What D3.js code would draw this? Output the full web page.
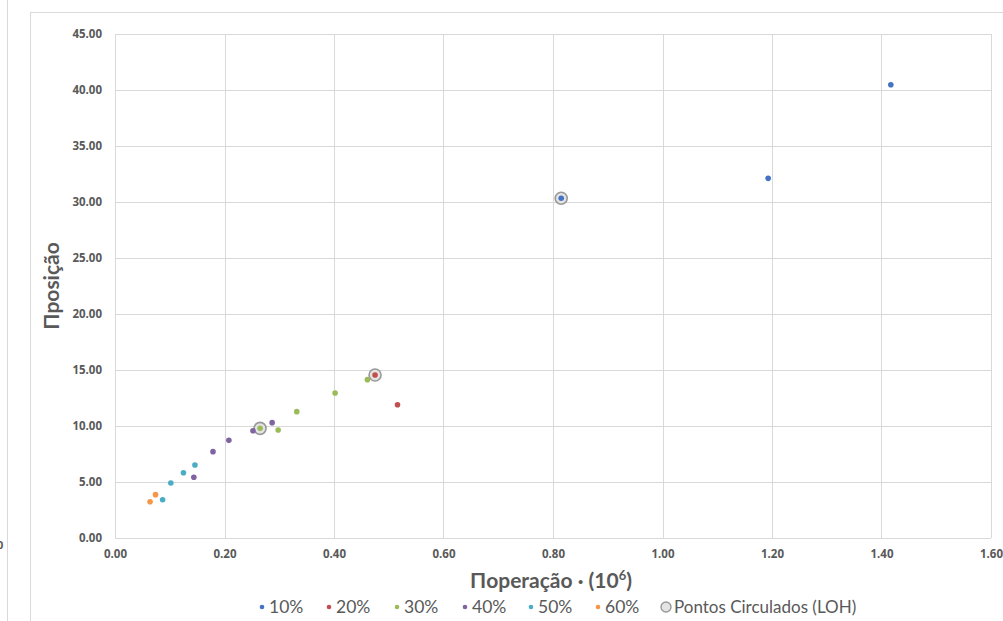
<!DOCTYPE html>
<html>
<head>
<meta charset="utf-8">
<script src="https://cdn.jsdelivr.net/npm/d3@7"></script>
<style>
  body { margin: 0; background: #fff; }
  svg { display: block; font-family: Lato, "Open Sans", sans-serif; }
</style>
</head>
<body>
<div id="chart"></div>
<script>
// series names + colours (Excel default palette)
const seriesNames = ['10%', '20%', '30%', '40%', '50%', '60%'];
const seriesColors = ['#4472c4', '#c0504d', '#9bbb59', '#8064a2', '#4bacc6', '#f79646'];

// points per series: [Noperacao (10^6), Nposicao]
const s10 = [[0.815, 30.34], [1.193, 32.11], [1.417, 40.47]];
const s20 = [[0.475, 14.55], [0.516, 11.90]];
const s30 = [[0.265, 9.79], [0.298, 9.64], [0.332, 11.28], [0.402, 12.95], [0.461, 14.14]];
const s40 = [[0.144, 5.42], [0.179, 7.71], [0.208, 8.72], [0.252, 9.58], [0.287, 10.30]];
const s50 = [[0.087, 3.42], [0.102, 4.91], [0.125, 5.83], [0.146, 6.52]];
const s60 = [[0.064, 3.24], [0.074, 3.87]];
const seriesData = [s10, s20, s30, s40, s50, s60];

// circled points (LOH)
const circled = [[0.265, 9.79], [0.475, 14.55], [0.815, 30.34]];

const xTicks = [0, 0.2, 0.4, 0.6, 0.8, 1.0, 1.2, 1.4, 1.6];
const yTicks = [0, 5, 10, 15, 20, 25, 30, 35, 40, 45];

const W = 1003, H = 621;
const margin = {t: 34, r: 12, b: 83, l: 115};
const grey = '#595959';

const svg = d3.select('#chart').append('svg')
  .attr('width', W)
  .attr('height', H);

// chart frame + the edge of a neighbouring chart on the left
svg.append('line').attr('x1', 7.5).attr('x2', 7.5).attr('y1', 0).attr('y2', H)
  .attr('stroke', '#d9d9d9');
svg.append('text').attr('x', -3).attr('y', 549).text('0')
  .attr('font-family', '"Open Sans", sans-serif')
  .attr('font-size', 11).attr('font-weight', 'bold').attr('fill', grey);
svg.append('rect').attr('x', 30.5).attr('y', 12.5).attr('width', W).attr('height', H)
  .attr('fill', 'none').attr('stroke', '#d9d9d9');

const x = d3.scaleLinear().domain([0, 1.6]).range([margin.l, W - margin.r]);
const y = d3.scaleLinear().domain([0, 45]).range([H - margin.b, margin.t]);

// gridlines
const grid = svg.append('g');
grid.selectAll('.gx').data(xTicks).join('line')
  .attr('x1', d => Math.round(x(d)) + 0.5).attr('x2', d => Math.round(x(d)) + 0.5)
  .attr('y1', y(45)).attr('y2', y(0))
  .attr('stroke', '#d9d9d9');
grid.selectAll('.gy').data(yTicks).join('line')
  .attr('x1', x(0)).attr('x2', x(1.6))
  .attr('y1', d => Math.round(y(d)) + 0.5).attr('y2', d => Math.round(y(d)) + 0.5)
  .attr('stroke', '#d9d9d9');

// axes (labels only)
const xAxis = svg.append('g')
  .attr('transform', `translate(0, ${y(0)})`)
  .call(d3.axisBottom(x).tickValues(xTicks).tickFormat(d3.format('.2f')).tickSize(0).tickPadding(12));
const yAxis = svg.append('g')
  .attr('transform', `translate(${x(0)}, 0)`)
  .call(d3.axisLeft(y).tickValues(yTicks).tickFormat(d3.format('.2f')).tickSize(0).tickPadding(13));
[xAxis, yAxis].forEach(a => {
  a.select('.domain').remove();
  a.selectAll('text').attr('font-size', 11.5).attr('font-weight', 'bold').attr('fill', grey)
    .attr('font-family', '"Open Sans", sans-serif');
});

// circled markers under the points
svg.append('g').selectAll('circle').data(circled).join('circle')
  .attr('cx', d => x(d[0])).attr('cy', d => y(d[1]))
  .attr('r', 6)
  .attr('fill', '#e4e4e4')
  .attr('stroke', '#999')
  .attr('stroke-width', 1.6);

// points
seriesData.forEach(function(pts, i){
  svg.append('g').selectAll('circle').data(pts).join('circle')
    .attr('cx', d => x(d[0])).attr('cy', d => y(d[1]))
    .attr('r', 2.8)
    .attr('fill', seriesColors[i]);
});

// axis titles
svg.append('text')
  .attr('transform', `translate(59, ${y(22.5)}) rotate(-90)`)
  .attr('text-anchor', 'middle')
  .attr('font-size', 21).attr('font-weight', 'bold').attr('fill', grey)
  .text('Πposição');

const xt = svg.append('text')
  .attr('x', (x(0) + x(1.6)) / 2 - 2).attr('y', 588)
  .attr('text-anchor', 'middle')
  .attr('font-size', 21).attr('font-weight', 'bold').attr('fill', grey);
xt.append('tspan').text('Πoperação · (10');
xt.append('tspan').text('6').attr('font-size', 13).attr('dy', -8);
xt.append('tspan').text(')').attr('dy', 8);

// legend
const legendX = [262, 329, 397, 465, 531, 598];
const legend = svg.append('g').attr('transform', 'translate(0, 607)');
seriesNames.forEach(function(name, i){
  const item = legend.append('g').attr('transform', `translate(${legendX[i]}, 0)`);
  item.append('circle').attr('r', 2.3).attr('fill', seriesColors[i]);
  item.append('text').attr('x', 7).attr('dy', '0.35em')
    .attr('font-size', 17.5).attr('fill', grey).text(name);
});
const loh = legend.append('g').attr('transform', 'translate(666, 0)');
loh.append('circle').attr('r', 5).attr('fill', '#e4e4e4').attr('stroke', '#999').attr('stroke-width', 1.4);
loh.append('text').attr('x', 8).attr('dy', '0.35em')
  .attr('font-size', 17).attr('fill', grey).text('Pontos Circulados (LOH)');
</script>
</body>
</html>
